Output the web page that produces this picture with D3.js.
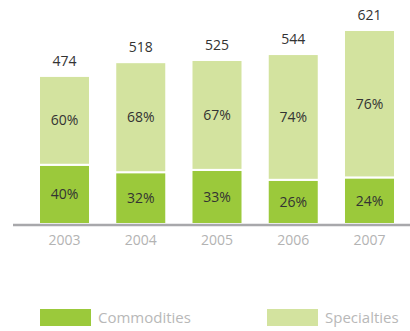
<!DOCTYPE html>
<html>
<head>
<meta charset="utf-8">
<script src="https://cdn.jsdelivr.net/npm/d3@7"></script>
<style>
  body { margin: 0; background: #fff; }
  text { font-family: "Open Sans", sans-serif; }
</style>
</head>
<body>
<div id="chart"></div>
<script>
// data
const years = ["2003", "2004", "2005", "2006", "2007"];
const totals = [474, 518, 525, 544, 621];
const commoditiesPct = [40, 32, 33, 26, 24];
const specialtiesPct = [60, 68, 67, 74, 76];
const seriesNames = ["Commodities", "Specialties"];

const width = 410, height = 331;
const colors = {Commodities: "#9bc93b", Specialties: "#d3e39f"};

const svg = d3.select("#chart")
  .append("svg")
  .attr("width", width)
  .attr("height", height);

const x = d3.scaleBand()
  .domain(years)
  .range([39, 395])
  .paddingInner(0.331)
  .paddingOuter(0);

const y = d3.scaleLinear()
  .domain([0, 621])
  .range([224, 30]);

const rows = years.map((yr, i) => ({
  year: yr,
  total: totals[i],
  Commodities: totals[i] * commoditiesPct[i] / 100,
  Specialties: totals[i] * specialtiesPct[i] / 100,
  cPct: commoditiesPct[i],
  sPct: specialtiesPct[i]
}));

const stacked = d3.stack().keys(seriesNames)(rows);

// bars
svg.append("g")
  .selectAll("g")
  .data(stacked)
  .join("g")
    .attr("fill", d => colors[d.key])
  .selectAll("rect")
  .data(d => d)
  .join("rect")
    .attr("x", d => x(d.data.year))
    .attr("width", x.bandwidth())
    .attr("y", d => y(d[1]))
    .attr("height", d => y(d[0]) - y(d[1]))
    .attr("stroke", "#fff")
    .attr("stroke-width", 2);

// percentage labels
stacked.forEach(s => {
  svg.append("g")
    .selectAll("text")
    .data(s)
    .join("text")
      .attr("x", d => x(d.data.year) + x.bandwidth() / 2)
      .attr("y", d => (y(d[0]) + y(d[1])) / 2 + 5)
      .attr("text-anchor", "middle")
      .attr("font-size", 14)
      .attr("fill", "#333")
      .text(d => (s.key === "Commodities" ? d.data.cPct : d.data.sPct) + "%");
});

// total labels
svg.append("g")
  .selectAll("text")
  .data(rows)
  .join("text")
    .attr("x", d => x(d.year) + x.bandwidth() / 2)
    .attr("y", d => y(d.total) - 10)
    .attr("text-anchor", "middle")
    .attr("font-size", 14)
    .attr("fill", "#333")
    .text(d => d.total);

// baseline axis
svg.append("line")
  .attr("x1", 13)
  .attr("x2", width)
  .attr("y1", y(0) + 1)
  .attr("y2", y(0) + 1)
  .attr("stroke", "#a8a8ab")
  .attr("stroke-width", 2.5);

// year labels
svg.append("g")
  .selectAll("text")
  .data(years)
  .join("text")
    .attr("x", d => x(d) + x.bandwidth() / 2)
    .attr("y", 245)
    .attr("text-anchor", "middle")
    .attr("font-size", 14)
    .attr("fill", "#b3b3b3")
    .text(d => d);

// legend
const legendX = [40, 267];
const legend = svg.append("g")
  .selectAll("g")
  .data(seriesNames)
  .join("g")
    .attr("transform", (d, i) => `translate(${legendX[i]},309)`);

legend.append("rect")
  .attr("width", 51)
  .attr("height", 17)
  .attr("fill", d => colors[d]);

legend.append("text")
  .attr("x", 58)
  .attr("y", 14)
  .attr("font-size", 15)
  .attr("fill", "#b8b8b8")
  .text(d => d);
</script>
</body>
</html>
